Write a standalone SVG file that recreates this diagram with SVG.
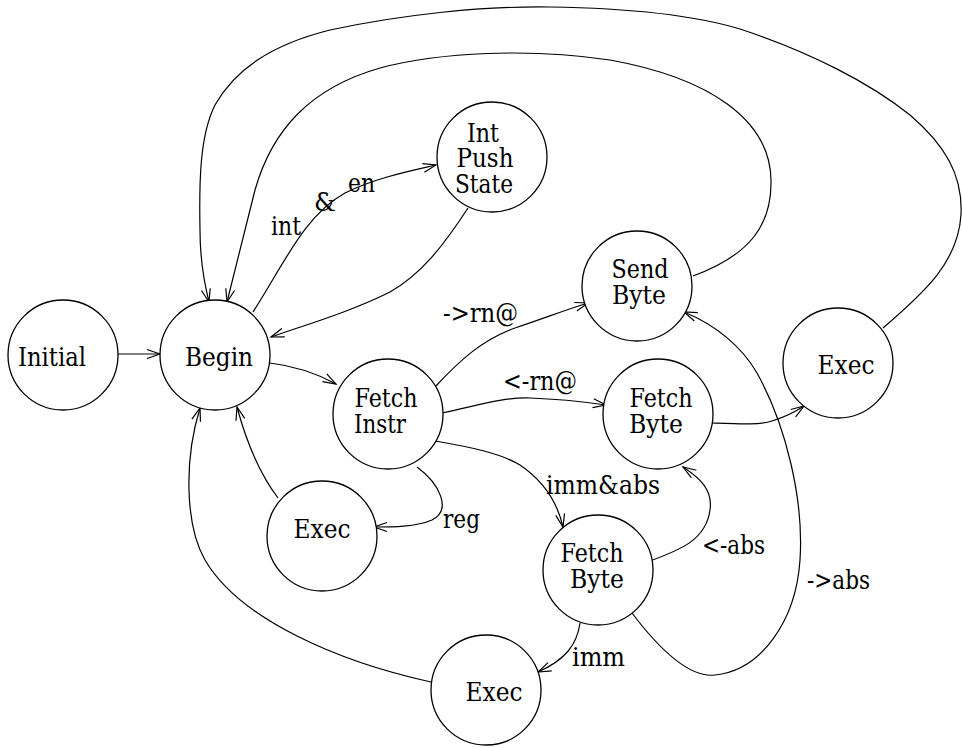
<svg xmlns="http://www.w3.org/2000/svg" width="962" height="748" viewBox="0 0 962 748">
  <defs>
    <marker id="arrow" markerUnits="userSpaceOnUse" markerWidth="16" markerHeight="12" refX="13" refY="4.5" orient="auto" overflow="visible">
      <path d="M0,0 L13,4.5 L0,9" fill="none" stroke="#000" stroke-width="1.2"/>
    </marker>
  </defs>
  <style>
    .node circle { fill: #fff; stroke: #000; stroke-width: 1.3; }
    .node text { text-anchor: middle; }
    .edges path { fill: none; stroke: #000; stroke-width: 1.2; marker-end: url(#arrow); }
  </style>
  <rect width="962" height="748" fill="#fff"/>

  <g class="edges" id="connectors">
    <!-- Initial -> Begin -->
    <path d="M118,354 L160,354"/>
    <!-- Begin -> Int Push State (int & en) -->
    <path d="M253,312 C285,262 305,215 345,193 C375,178 410,171 436,165"/>
    <!-- Int Push State -> Begin -->
    <path d="M468,208 C442,248 420,275 390,292 C350,312 305,325 271,337"/>
    <!-- Begin -> Fetch Instr -->
    <path d="M270,363 C295,366 316,373 336,384"/>
    <!-- Fetch Instr -> Send Byte (->rn@) -->
    <path d="M435,387 C460,360 482,340 515,328 C545,318 565,310 588,303"/>
    <!-- Fetch Instr -> Fetch Byte (<-rn@) -->
    <path d="M442,413 C480,405 505,397 530,398 C560,399 585,402 606,405"/>
    <!-- Fetch Byte -> Exec (right) -->
    <path d="M711,423 C740,424 760,425 772,421 C785,417 795,412 804,406"/>
    <!-- Fetch Instr -> Exec (reg) -->
    <path d="M417,467 C440,484 452,510 432,520 C416,527 392,527 374,527"/>
    <!-- Fetch Instr -> Fetch Byte (imm&abs) -->
    <path d="M435,441 C470,447 500,453 520,465 C545,482 558,505 563,527"/>
    <!-- Fetch Byte -> Fetch Byte (<-abs) -->
    <path d="M650,561 C680,550 706,540 710,510 C713,490 700,478 683,467"/>
    <!-- Fetch Byte -> Send Byte (->abs) -->
    <path d="M632,613 C660,650 690,678 715,675 C762,670 796,620 800,560 C804,500 786,425 757,373 C742,347 716,325 684,312"/>
    <!-- Fetch Byte -> Exec (imm) -->
    <path d="M580,623 C577,645 565,660 538,672"/>
    <!-- Exec (bottom) -> Begin -->
    <path d="M431,682 C340,662 240,620 205,560 C185,525 184,460 200,408"/>
    <!-- Exec (left) -> Begin -->
    <path d="M278,498 C263,478 248,448 237,407"/>
    <!-- Send Byte -> Begin -->
    <path d="M693,276 C750,255 772,225 771,180 C770,120 710,78 610,60 C530,48 440,52 380,68 C310,88 272,130 255,190 C245,230 235,270 227,302"/>
    <!-- Exec (right) -> Begin -->
    <path d="M883,328 C925,292 958,262 961,215 C963,175 945,145 910,115 C870,83 810,52 740,29 C690,14 620,8 550,7 C480,6 400,15 330,30 C270,45 235,70 215,105 C200,135 199,180 200,230 C200,260 204,282 209,302"/>
  </g>

  <!-- all text: serif face, widths pinned with textLength -->
  <g font-family="DejaVu Serif, Liberation Serif, serif" font-size="26" fill="#000">
    <g id="edge-labels">
      <text x="271" y="235" textLength="30" lengthAdjust="spacingAndGlyphs">int</text>
      <text x="314" y="211" textLength="22" lengthAdjust="spacingAndGlyphs">&amp;</text>
      <text x="348" y="192" textLength="27" lengthAdjust="spacingAndGlyphs">en</text>
      <text x="443" y="322" textLength="75" lengthAdjust="spacingAndGlyphs">-&gt;rn@</text>
      <text x="503" y="390" textLength="74" lengthAdjust="spacingAndGlyphs">&lt;-rn@</text>
      <text x="443" y="528" textLength="37" lengthAdjust="spacingAndGlyphs">reg</text>
      <text x="546" y="494" textLength="114" lengthAdjust="spacingAndGlyphs">imm&amp;abs</text>
      <text x="702" y="554" textLength="63" lengthAdjust="spacingAndGlyphs">&lt;-abs</text>
      <text x="807" y="589" textLength="63" lengthAdjust="spacingAndGlyphs">-&gt;abs</text>
      <text x="572" y="666" textLength="53" lengthAdjust="spacingAndGlyphs">imm</text>
    </g>

    <g class="node" id="initial">
      <circle cx="63" cy="355" r="55"/>
      <text x="52" y="366" textLength="68" lengthAdjust="spacingAndGlyphs">Initial</text>
    </g>
    <g class="node" id="begin">
      <circle cx="215" cy="355" r="55"/>
      <text x="219" y="366" textLength="68" lengthAdjust="spacingAndGlyphs">Begin</text>
    </g>
    <g class="node" id="int-push-state">
      <circle cx="492" cy="157" r="55"/>
      <text x="483" y="142" textLength="32" lengthAdjust="spacingAndGlyphs">Int</text>
      <text x="485" y="167" textLength="57" lengthAdjust="spacingAndGlyphs">Push</text>
      <text x="484" y="193" textLength="58" lengthAdjust="spacingAndGlyphs">State</text>
    </g>
    <g class="node" id="send-byte">
      <circle cx="637" cy="286" r="55"/>
      <text x="640" y="278" textLength="57" lengthAdjust="spacingAndGlyphs">Send</text>
      <text x="639" y="304" textLength="54" lengthAdjust="spacingAndGlyphs">Byte</text>
    </g>
    <g class="node" id="fetch-instr">
      <circle cx="388" cy="414" r="55"/>
      <text x="386" y="407" textLength="63" lengthAdjust="spacingAndGlyphs">Fetch</text>
      <text x="380" y="433" textLength="52" lengthAdjust="spacingAndGlyphs">Instr</text>
    </g>
    <g class="node" id="fetch-byte-1">
      <circle cx="658" cy="414" r="55"/>
      <text x="661" y="407" textLength="63" lengthAdjust="spacingAndGlyphs">Fetch</text>
      <text x="656" y="433" textLength="54" lengthAdjust="spacingAndGlyphs">Byte</text>
    </g>
    <g class="node" id="exec-right">
      <circle cx="838" cy="363" r="55"/>
      <text x="846" y="374" textLength="57" lengthAdjust="spacingAndGlyphs">Exec</text>
    </g>
    <g class="node" id="exec-reg">
      <circle cx="322" cy="536" r="55"/>
      <text x="322" y="538" textLength="57" lengthAdjust="spacingAndGlyphs">Exec</text>
    </g>
    <g class="node" id="fetch-byte-2">
      <circle cx="598" cy="570" r="55"/>
      <text x="592" y="562" textLength="63" lengthAdjust="spacingAndGlyphs">Fetch</text>
      <text x="597" y="588" textLength="54" lengthAdjust="spacingAndGlyphs">Byte</text>
    </g>
    <g class="node" id="exec-imm">
      <circle cx="486" cy="690" r="55"/>
      <text x="494" y="701" textLength="57" lengthAdjust="spacingAndGlyphs">Exec</text>
    </g>
  </g>
</svg>
